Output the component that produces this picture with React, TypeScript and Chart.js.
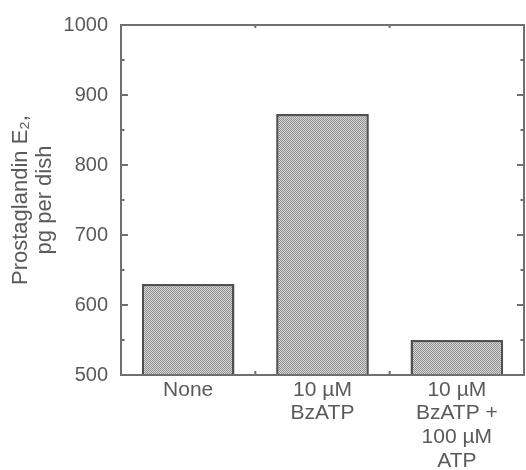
import React, { useEffect, useRef } from "react";
import { Chart, registerables } from "chart.js";

Chart.register(...registerables);

const categories: string[][] = [
  ["None"],
  ["10 \u00b5M", "BzATP"],
  ["10 \u00b5M", "BzATP +", "100 \u00b5M", "ATP"],
];
const values: number[] = [630, 873, 550];
const yMin = 500;
const yMax = 1000;
const yStep = 50;
const yTitle: string[] = ["Prostaglandin E\u2082,", "pg per dish"];

const FONT = "'Liberation Sans', Arial, Helvetica, sans-serif";
const TEXT = "#5a5a5a";
const AXIS = "#707070";

function makePattern(): CanvasPattern | string {
  const c = document.createElement("canvas");
  c.width = 2;
  c.height = 2;
  const g = c.getContext("2d");
  if (!g) return "#b0b0b0";
  g.fillStyle = "#d8d8d8";
  g.fillRect(0, 0, 2, 2);
  g.fillStyle = "#8e8e8e";
  g.fillRect(0, 0, 1, 1);
  g.fillRect(1, 1, 1, 1);
  const p = g.createPattern(c, "repeat");
  return p || "#b0b0b0";
}

const framePlugin = {
  id: "frame",
  afterDatasetsDraw(chart: any) {
    const { ctx, chartArea } = chart;
    const { left, right, top, bottom } = chartArea;
    const y = chart.scales.y;
    const x = chart.scales.x;
    ctx.save();
    ctx.strokeStyle = AXIS;
    ctx.lineWidth = 2;
    ctx.strokeRect(left, top, right - left, bottom - top);
    ctx.beginPath();
    for (let v = yMin + yStep; v < yMax; v += yStep) {
      const py = y.getPixelForValue(v);
      const len = v % 100 === 0 ? 7 : 3.5;
      ctx.moveTo(left, py);
      ctx.lineTo(left + len, py);
      ctx.moveTo(right, py);
      ctx.lineTo(right - len, py);
    }
    for (let i = 0; i < categories.length - 1; i++) {
      const px = (x.getPixelForValue(i) + x.getPixelForValue(i + 1)) / 2;
      ctx.moveTo(px, bottom);
      ctx.lineTo(px, bottom - 4);
      ctx.moveTo(px, top);
      ctx.lineTo(px, top + 3);
    }
    ctx.stroke();
    ctx.restore();
  },
};

export default function App() {
  const ref = useRef<HTMLCanvasElement>(null);
  useEffect(() => {
    if (!ref.current) return;
    const chart = new Chart(ref.current, {
      type: "bar",
      data: {
        labels: categories,
        datasets: [
          {
            data: values,
            backgroundColor: makePattern() as any,
            borderColor: "#505050",
            borderWidth: 2.5,
            borderSkipped: false,
            categoryPercentage: 1,
            barPercentage: 0.69,
          },
        ],
      },
      options: {
        responsive: false,
        animation: false,
        layout: { padding: { top: 24, right: 2, left: 0, bottom: 0 } },
        plugins: { legend: { display: false }, tooltip: { enabled: false } },
        scales: {
          x: {
            grid: { display: false, drawTicks: false },
            border: { display: false },
            ticks: {
              color: TEXT,
              font: { family: FONT, size: 21, lineHeight: 1.13 },
              padding: 3,
              maxRotation: 0,
              autoSkip: false,
            },
            afterFit(scale: any) {
              scale.height = 95;
            },
          },
          y: {
            min: yMin,
            max: yMax,
            grid: { display: false, drawTicks: false },
            border: { display: false },
            ticks: {
              stepSize: yStep,
              color: TEXT,
              font: { family: FONT, size: 20 },
              padding: 13,
              autoSkip: false,
              callback: (v: any) => (Number(v) % 100 === 0 ? String(v) : ""),
            },
            title: {
              display: true,
              text: yTitle,
              color: TEXT,
              font: { family: FONT, size: 22, lineHeight: 1.09 },
              padding: { top: 9, bottom: 0 },
            },
            afterFit(scale: any) {
              scale.width = 121;
            },
          },
        },
      },
      plugins: [framePlugin],
    });
    return () => chart.destroy();
  }, []);
  return (
    <div style={{ position: "absolute", left: 0, top: 0, width: 526, height: 470 }}>
      <canvas ref={ref} width={526} height={470} style={{ display: "block" }} />
    </div>
  );
}
